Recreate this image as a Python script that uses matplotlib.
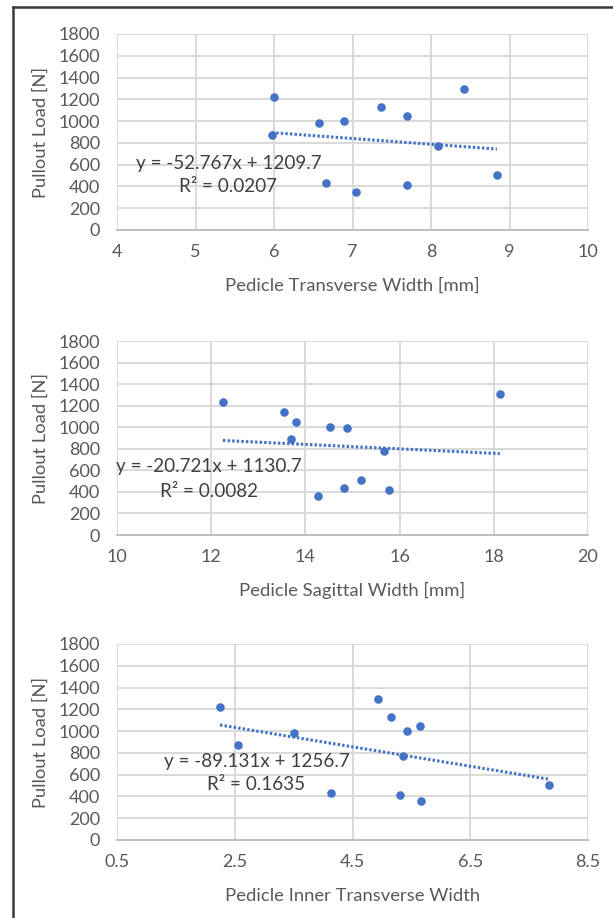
import matplotlib.pyplot as plt
from matplotlib.lines import Line2D

plt.rcParams['font.family'] = ['Lato', 'DejaVu Sans']

# Pullout loads [N] (same specimens in every panel)
load_1 = [1220, 877, 981, 997, 1132, 1043, 1297, 773, 429, 353, 414, 503]
trans_width = [6.0, 5.97, 6.57, 6.89, 7.36, 7.69, 8.42, 8.09, 6.66, 7.05, 7.69, 8.84]

load_2 = [1232, 1142, 1053, 889, 1006, 991, 781, 1306, 358, 432, 509, 417]
sag_width = [12.25, 13.54, 13.80, 13.70, 14.53, 14.88, 15.67, 18.13, 14.26, 14.81, 15.19, 15.77]

load_3 = [1220, 877, 987, 429, 1297, 1132, 997, 1043, 773, 414, 356, 503]
inner_width = [2.25, 2.55, 3.51, 4.14, 4.93, 5.15, 5.43, 5.65, 5.36, 5.31, 5.67, 7.84]

# trendline coefficients (slope, intercept) and R^2 as printed on the chart
fits = [(-52.767, 1209.7, '0.0207'), (-20.721, 1130.7, '0.0082'), (-89.131, 1256.7, '0.1635')]

xlabels = ['Pedicle Transverse Width [mm]', 'Pedicle Sagittal Width [mm]',
           'Pedicle Inner Transverse Width']
xticks = [[4, 5, 6, 7, 8, 9, 10], [10, 12, 14, 16, 18, 20], [0.5, 2.5, 4.5, 6.5, 8.5]]
xtick_labels = [['4', '5', '6', '7', '8', '9', '10'], ['10', '12', '14', '16', '18', '20'],
                ['0.5', '2.5', '4.5', '6.5', '8.5']]
yticks = list(range(0, 1801, 200))

eq_pos = [(5.42, 613, 399), (11.96, 636, 404), (2.87, 721, 506)]

xs = [trans_width, sag_width, inner_width]
ys = [load_1, load_2, load_3]

blue = '#4472C4'
grid = '#d9d9d9'
txt = '#595959'

fig = plt.figure(figsize=(6.13, 9.18), dpi=100)

# axes boxes in pixels: (top, bottom)
boxes = [(34, 230), (341, 535), (644, 840)]
W, H = 613, 918
left, right = 117, 588

for i in range(3):
    top, bot = boxes[i]
    ax = fig.add_axes([left / W, 1 - bot / H, (right - left) / W, (bot - top) / H])
    x, y = xs[i], ys[i]
    ax.scatter(x, y, s=38, color=blue, zorder=3, linewidths=0)

    m, b, r2 = fits[i]
    x0, x1 = min(x), max(x)
    ax.plot([x0, x1], [m * x0 + b, m * x1 + b], color=blue, lw=2.2,
            linestyle=(0, (0.8, 0.7)), zorder=2)

    ax.set_xlim(xticks[i][0], xticks[i][-1])
    ax.set_ylim(0, 1800)
    ax.set_xticks(xticks[i])
    ax.set_xticklabels(xtick_labels[i])
    ax.set_yticks(yticks)
    ax.grid(True, color=grid, lw=1.4, zorder=0)
    ax.tick_params(length=0, labelsize=13, colors=txt)
    ax.tick_params(axis='y', pad=12)
    ax.tick_params(axis='x', pad=10)
    for s in ['top', 'right', 'left']:
        ax.spines[s].set_visible(False)
    ax.spines['bottom'].set_color('#bfbfbf')
    ax.spines['bottom'].set_linewidth(1.4)

    ax.text(-0.161, 0.5, 'Pullout Load [N]', rotation=90, transform=ax.transAxes,
            ha='center', va='center', fontsize=13.2, color=txt)
    ax.text(0.5, -0.286, xlabels[i], transform=ax.transAxes,
            ha='center', va='center', fontsize=13.3, color=txt)

    ex, ey1, ey2 = eq_pos[i]
    sign = '+' if b >= 0 else '-'
    ax.text(ex, ey1, f'y = {m}x {sign} {abs(b)}', ha='center', va='center',
            fontsize=13.6, color='#404040', zorder=4)
    ax.text(ex, ey2, f'R² = {r2}', ha='center', va='center',
            fontsize=13.6, color='#404040', zorder=4)

# frame of the original screenshot (top and left edges only)
fig.add_artist(Line2D([13 / W, 13 / W], [0, 1 - 7 / H], color='#3a3a3a', lw=1.8))
fig.add_artist(Line2D([13 / W, 1], [1 - 7 / H, 1 - 7 / H], color='#3a3a3a', lw=1.8))

fig.savefig('out.png', dpi=100)
